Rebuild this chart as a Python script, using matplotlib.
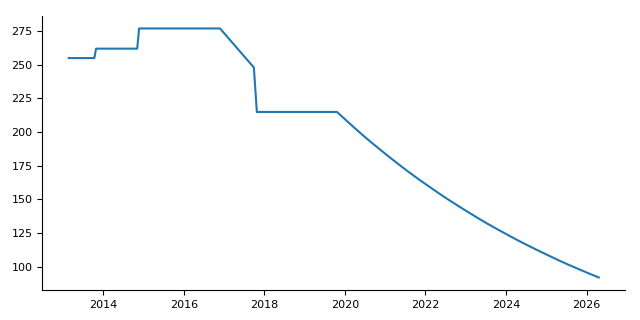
import matplotlib
matplotlib.use("Agg")
import matplotlib.pyplot as plt
import pandas as pd

DATES = [
    "2013-02-22", "2013-10-12", "2013-10-28", "2014-11-05", "2014-11-22",
    "2016-11-25", "2017-09-28", "2017-10-25", "2019-10-22",
    "2020-01-22", "2020-04-22", "2020-07-22", "2020-10-22",
    "2021-01-22", "2021-04-22", "2021-07-22", "2021-10-22",
    "2022-01-22", "2022-04-22", "2022-07-22", "2022-10-22",
    "2023-01-22", "2023-04-22", "2023-07-22", "2023-10-22",
    "2024-01-22", "2024-04-22", "2024-07-22", "2024-10-22",
    "2025-01-22", "2025-04-22", "2025-07-22", "2025-10-22",
    "2026-01-22", "2026-04-22",
]
VALUES = [
    255, 255, 262, 262, 277,
    277, 248, 215, 215,
    208.1, 201.4, 194.9, 188.7,
    182.6, 176.8, 171.1, 165.6,
    160.3, 155.2, 150.2, 145.4,
    140.7, 136.2, 131.8, 127.6,
    123.5, 119.5, 115.7, 112.0,
    108.4, 104.9, 101.5, 98.3,
    95.1, 92.1,
]


def main() -> None:
    x = pd.to_datetime(DATES)

    fig, ax = plt.subplots(figsize=(6.4, 3.2), dpi=100)
    ax.plot(x, VALUES, color="#1f77b4", linewidth=1.5)

    ax.spines["top"].set_visible(False)
    ax.spines["right"].set_visible(False)
    ax.tick_params(labelsize=8)

    fig.subplots_adjust(left=0.066, right=0.977, top=0.95, bottom=0.094)
    fig.savefig("out.png")


if __name__ == "__main__":
    main()
